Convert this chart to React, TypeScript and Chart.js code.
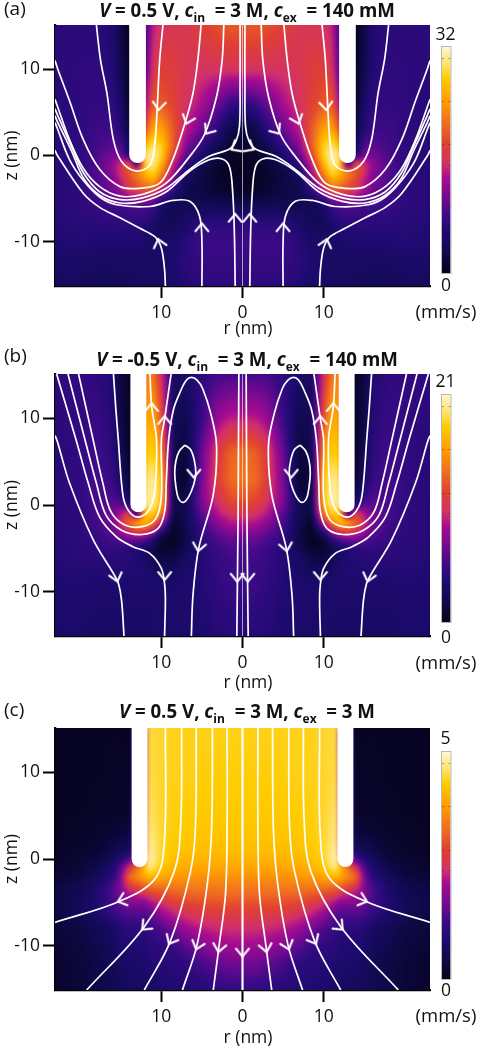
import React, { useEffect, useRef } from "react";
import { Chart, registerables } from "chart.js";
Chart.register(...registerables);

const FONT = '"Open Sans", "Noto Sans", sans-serif';
const INK = "#111";

// Colour scale: [fraction of max, colour]
const cmapStops: [number, string][] = [
  [0, "#05021c"], [0.03, "#080428"], [0.1, "#100a50"], [0.18, "#1e0a70"], [0.25, "#3a0a86"],
  [0.32, "#6a0a90"], [0.425, "#a80c90"], [0.48, "#d0306c"], [0.57, "#e04030"], [0.67, "#f07020"],
  [0.76, "#ff9c00"], [0.865, "#ffcc00"], [0.92, "#ffe060"], [1, "#fff6cc"],
];

const zNodes = [15, 10, 6, 3, 1, 0, -1, -2, -3, -4, -5, -6, -8, -10, -12, -15];
const rNodesAB = [0, 1.5, 3, 5, 7, 8.5, 10, 11, 12, 13, 14, 15, 16, 18, 20, 23.2];
const rNodesC = [0, 1.5, 3, 5, 7, 8.5, 10, 11, 11.7, 11.9, 14, 15, 16, 18, 20, 23.2];

// Flow speed, percent of the colour-bar maximum, rows follow zNodes, columns |r|
const speedA = [
  [62, 62, 60, 56, 52, 52, 50, 45, 25, 2, 2, 8, 18, 21, 21, 21],
  [50, 50, 50, 50, 52, 55, 56, 52, 28, 2, 2, 10, 19, 22, 22, 21],
  [22, 24, 32, 42, 50, 56, 62, 62, 40, 3, 3, 16, 22, 23, 22, 20],
  [6, 9, 20, 32, 45, 62, 78, 80, 60, 5, 8, 19, 25, 25, 22, 20],
  [3, 5, 10, 22, 36, 62, 88, 94, 84, 8, 12, 28, 30, 26, 22, 20],
  [2, 3, 6, 16, 30, 55, 88, 98, 94, 12, 16, 35, 34, 27, 22, 20],
  [1, 2, 5, 11, 22, 46, 82, 96, 90, 14, 64, 50, 38, 28, 22, 20],
  [1, 2, 4, 8, 15, 40, 72, 90, 82, 72, 62, 50, 38, 28, 22, 20],
  [2, 2, 4, 8, 11, 30, 60, 78, 72, 64, 56, 44, 35, 27, 22, 20],
  [3, 3, 5, 8, 10, 22, 44, 62, 62, 58, 52, 42, 34, 27, 22, 20],
  [6, 7, 8, 9, 10, 12, 22, 36, 40, 38, 36, 32, 29, 25, 22, 20],
  [12, 13, 12, 12, 11, 11, 15, 24, 27, 27, 27, 26, 25, 24, 22, 20],
  [22, 22, 22, 22, 16, 12, 12, 16, 20, 21, 21, 21, 21, 21, 20, 19],
  [25, 25, 25, 25, 20, 16, 15, 15, 16, 18, 18, 18, 18, 18, 19, 18],
  [24, 24, 24, 24, 21, 18, 16, 15, 15, 15, 15, 15, 15, 15, 16, 16],
  [22, 22, 22, 21, 19, 16, 15, 14, 14, 14, 13, 13, 12, 12, 13, 13],
];
const speedB = [
  [26, 26, 26, 22, 16, 14, 50, 68, 72, 5, 3, 7, 18, 22, 23, 22],
  [45, 45, 40, 24, 10, 12, 60, 80, 76, 5, 3, 8, 20, 24, 23, 21],
  [66, 64, 54, 32, 6, 10, 75, 88, 84, 6, 3, 12, 21, 26, 23, 20],
  [68, 66, 56, 34, 3, 8, 85, 96, 92, 7, 5, 15, 24, 27, 23, 20],
  [62, 60, 52, 36, 8, 8, 85, 98, 95, 8, 10, 22, 27, 27, 23, 20],
  [58, 56, 48, 34, 10, 9, 82, 96, 95, 10, 18, 30, 30, 27, 22, 20],
  [52, 50, 44, 30, 10, 7, 70, 88, 85, 12, 58, 42, 34, 27, 22, 20],
  [44, 44, 38, 26, 11, 4, 45, 70, 85, 80, 65, 50, 34, 26, 22, 20],
  [38, 37, 32, 24, 9, 2, 20, 42, 55, 58, 50, 40, 30, 25, 22, 20],
  [31, 31, 27, 22, 9, 2, 5, 18, 28, 32, 32, 30, 26, 24, 21, 20],
  [28, 28, 25, 19, 11, 4, 4, 9, 15, 19, 21, 22, 23, 22, 21, 19],
  [27, 26, 24, 19, 14, 8, 7, 11, 16, 18, 20, 20, 21, 21, 21, 19],
  [25, 25, 23, 19, 17, 14, 14, 16, 18, 18, 18, 18, 18, 18, 19, 18],
  [24, 24, 22, 19, 17, 17, 17, 17, 17, 17, 17, 17, 17, 17, 17, 17],
  [22, 22, 21, 18, 17, 17, 17, 16, 16, 16, 16, 16, 16, 16, 17, 17],
  [20, 20, 20, 17, 17, 16, 16, 16, 15, 15, 15, 15, 15, 15, 16, 16],
];
const speedC = [
  [88, 88, 88, 88, 88, 88, 89, 90, 90, 30, 2, 2, 2, 2, 2, 2],
  [87, 87, 87, 87, 88, 88, 89, 90, 91, 40, 2, 3, 3, 2, 2, 2],
  [86, 86, 86, 86, 87, 87, 89, 91, 93, 45, 3, 3, 3, 3, 2, 2],
  [85, 85, 85, 85, 86, 87, 89, 93, 95, 50, 6, 6, 5, 4, 3, 2],
  [83, 83, 83, 83, 84, 85, 89, 95, 97, 55, 12, 12, 9, 5, 4, 3],
  [81, 81, 81, 81, 82, 84, 88, 96, 99, 70, 26, 19, 13, 7, 5, 3],
  [78, 78, 78, 78, 79, 81, 85, 93, 95, 85, 50, 28, 17, 9, 6, 4],
  [74, 74, 74, 74, 75, 76, 79, 82, 82, 80, 66, 34, 20, 12, 7, 5],
  [70, 70, 70, 70, 70, 70, 70, 69, 68, 67, 55, 36, 26, 16, 10, 7],
  [66, 66, 66, 66, 65, 63, 60, 57, 54, 52, 42, 34, 28, 17, 11, 8],
  [61, 61, 61, 60, 58, 55, 50, 44, 40, 36, 36, 32, 26, 18, 12, 8],
  [56, 56, 56, 55, 52, 48, 41, 34, 30, 30, 30, 28, 24, 17, 12, 8],
  [48, 48, 47, 45, 40, 34, 28, 25, 24, 22, 21, 19, 15, 11, 8, 6],
  [41, 41, 40, 36, 30, 24, 22, 21, 20, 19, 18, 17, 13, 10, 7, 5],
  [33, 33, 31, 27, 22, 21, 20, 19, 18, 17, 16, 14, 11, 8, 6, 4],
  [23, 23, 22, 20, 19, 18, 17, 16, 15, 14, 13, 12, 11, 9, 6, 4],
];

// Streamlines, left half [r, z] in nm; the right half is their mirror image
const streamsA: number[][][] = [
  [[-18, 15.1], [-17.5, 11.1], [-16.7, 7.2], [-15.9, 1.8], [-14.9, -0.7], [-13.1, -1.8], [-11.4, -1.1], [-10.8, 1.4], [-10.5, 5.7], [-10.2, 11.1], [-9.8, 15.1]],
  [[-23.1, 11], [-22.8, 10.1], [-21.3, 6.3], [-19.6, 1.8], [-17.6, -1.6], [-15.1, -3.6], [-12.7, -3.8], [-10.2, -3.2], [-8.6, -0.5], [-7.1, 3.7], [-6.1, 7.2], [-5.5, 11.1], [-5.1, 15.1]],
  [[-23.1, 6.5], [-22.8, 5.7], [-21.3, 1.8], [-19.6, -1.5], [-17.6, -3.6], [-15.1, -4.7], [-12.3, -4.5], [-9.4, -3.2], [-6.5, -0.1], [-4.7, 2.4], [-3.2, 6.8], [-2.5, 11.1], [-2.3, 15.1]],
  [[-23.1, 5.4], [-22.8, 4.7], [-21.0, 0.9], [-19.6, -2], [-17.6, -4.2], [-15.1, -5.1], [-12.3, -4.9], [-9.4, -3.8], [-6.5, -1.6], [-4.1, -0.1], [-1.6, 0.75], [-0.8, 1.65], [-0.37, 3.4], [-0.3, 8], [-0.3, 15.1]],
  [[-23.1, 4.6], [-22.8, 3.9], [-21.0, 0.4], [-19.6, -2.6], [-17.6, -4.6], [-15.1, -5.5], [-12.3, -5.3], [-9.4, -4.2], [-6.5, -1.8], [-4.1, -0.5], [-2.5, -0.4], [-1.6, -1.3], [-1.2, -4.4], [-1, -9], [-0.9, -15.1]],
  [[-23.1, 3.8], [-22.8, 3.1], [-21.3, -0.5], [-19.6, -2.9], [-17.6, -4.8], [-15.5, -5.7], [-11.4, -5.9], [-8.6, -5.2], [-6.5, -5.3], [-5.3, -7], [-5, -10], [-5, -15.1]],
  [[-23.1, 0.6], [-22.8, 0], [-19.6, -4.4], [-17.6, -6], [-15.1, -7.2], [-12.7, -8.4], [-10.8, -9.4], [-10, -10.7], [-9.6, -13.2], [-9.5, -15.1]],
];
const streamsB: number[][][] = [
  [[-15.9, 15.1], [-15.6, 11], [-15.3, 7.5], [-14.9, 2.5], [-14.5, 0.2], [-13.5, -1.2], [-12.4, -1.3], [-11.4, -0.4], [-10.8, 1.7], [-10.6, 7.5], [-11.2, 11.4], [-11.4, 15.1]],
  [[-20.2, 15.1], [-18.4, 7.5], [-17.2, 2.5], [-16.2, -0.8], [-14.5, -2.3], [-12.4, -2.5], [-10.7, -1.6], [-10, 1], [-10, 7.5], [-9.6, 9.9], [-8.8, 15.1]],
  [[-21.5, 15.1], [-19.4, 7.5], [-18, 2.5], [-16.8, -1.2], [-14.9, -2.9], [-12.4, -3.4], [-10.4, -2.7], [-9.6, -0.8], [-9.4, 2.5], [-9.1, 7.5], [-8.5, 11], [-7.6, 13.2], [-6.9, 14.4], [-6.3, 14.7], [-5.6, 14.4], [-4.9, 13.4], [-3.9, 10.5], [-3.2, 6.9], [-3.6, 1.2], [-5.4, -5], [-6.1, -10.4], [-6.3, -15.1]],
  [[-22.9, 15.1], [-20.5, 7.5], [-19, 2.5], [-17.6, -1.4], [-15.5, -3.7], [-13.5, -4.8], [-11.4, -5.6], [-10, -7.3], [-9.6, -9.1], [-9.5, -11], [-9.6, -15.1]],
  [[-23.1, 8], [-22.8, 7.3], [-21.3, 2.5], [-18.4, -4], [-15.9, -7.9], [-15.3, -9], [-14.9, -11], [-14.6, -15.1]],
  [[-7.1, 6.9], [-6.4, 6.4], [-5.95, 5.2], [-5.75, 3.7], [-6, 2.4], [-6.6, 1], [-7.3, 0.3], [-7.9, 0.8], [-8.2, 2.1], [-8.35, 3.7], [-8.2, 5.1], [-7.8, 6.2], [-7.1, 6.9]],
  [[-0.45, 15.1], [-0.5, 6], [-0.55, -2], [-0.7, -15.1]],
];
const streamsC: number[][][] = [
  [[-1.9, 15.1], [-1.9, 3.6], [-2.1, -4.1], [-2.9, -10.1], [-3.6, -15.1]],
  [[-3.7, 15.1], [-3.8, 3.6], [-4.3, -2.6], [-5.6, -9.9], [-7.4, -15.1]],
  [[-5.7, 15.1], [-5.8, 3.6], [-6.4, -1.4], [-8.9, -9.5], [-12.1, -15.1]],
  [[-7.5, 15.1], [-7.6, 4.4], [-8.4, -1.4], [-12.1, -7.8], [-19.2, -15.1]],
  [[-9.5, 15.1], [-9.6, 2.4], [-10.7, -2.2], [-15.2, -4.9], [-23.1, -7.3]],
];
const axisStreamZ = [15.1, -15.1];

// Arrowheads, left half: [r, z, heading in degrees; 0 = down, 90 = left, 180 = up]
const arrowsA = [[-10.3, 5.6, 5], [-6.8, 4, 20], [-4.3, 2.8, 35], [-1.05, 0.85, 60], [-0.9, -7.1, 180], [-5, -8.2, 180], [-10.3, -10, 165]];
const arrowsB = [[-11.2, 11.4, 180], [-9.6, 9.9, 180], [-6, 3.5, 0], [-5.4, -5, 10], [-0.65, -8.5, 0], [-9.6, -8.3, 0], [-15.5, -8.5, -15]];
const arrowsC = [[-2.9, -10.4, 10], [-5.6, -10.1, 18], [-8.9, -9.5, 28], [-12.1, -7.9, 45], [-15, -4.8, 72]];
const axisArrowC = [[0, -10.9, 0]];

const rTicks = [-10, 0, 10];
const zTicks = [-10, 0, 10];
const barMarks = [0.95, 0.76, 0.57, 0.48, 0.29];

const lut: number[][] = (() => {
  const rgb = (h: string) => [1, 3, 5].map((i) => parseInt(h.slice(i, i + 2), 16));
  const out: number[][] = [];
  for (let i = 0; i <= 255; i++) {
    const t = i / 255;
    let k = 0;
    while (k < cmapStops.length - 2 && t > cmapStops[k + 1][0]) k++;
    const [t0, c0] = cmapStops[k];
    const [t1, c1] = cmapStops[k + 1];
    const f = Math.min(1, (t - t0) / (t1 - t0));
    const a = rgb(c0);
    const b = rgb(c1);
    out.push(a.map((v, j) => v + (b[j] - v) * f));
  }
  return out;
})();

function sampleSpeed(grid: number[][], rs: number[], r: number, z: number) {
  const ar = Math.min(Math.abs(r), rs[rs.length - 1]);
  let i = 0;
  while (i < rs.length - 2 && ar > rs[i + 1]) i++;
  let j = 0;
  while (j < zNodes.length - 2 && z < zNodes[j + 1]) j++;
  const fr = (ar - rs[i]) / (rs[i + 1] - rs[i]);
  const fz = Math.max(0, Math.min(1, (zNodes[j] - z) / (zNodes[j] - zNodes[j + 1])));
  const top = grid[j][i] + (grid[j][i + 1] - grid[j][i]) * fr;
  const bot = grid[j + 1][i] + (grid[j + 1][i + 1] - grid[j + 1][i]) * fr;
  return (top + (bot - top) * fz) / 100;
}

type Panel = {
  top: number; height: number; areaTop: number; bottom: number;
  barTop: number; barBottom: number; maxLabel: string; maxY: number; zeroY: number; unitY: number; rTitleY: number;
  grid: number[][]; rs: number[]; streams: number[][][]; arrows: number[][]; axisArrows: number[][];
  poreMid: number; poreHalf: number; poreTip: number; axisWidth: number; axisAlpha: number;
  tag: string; tagY: number; titleY: number; title: React.ReactNode;
};

const Sub = ({ t }: { t: string }) => (
  <sub style={{ fontSize: 12, lineHeight: 0, verticalAlign: -5, fontWeight: 700 }}>{t}</sub>
);
const Head = (v: string, ex: string) => (
  <>
    <i>V</i> = {v} V, <i>c</i><Sub t="in" /> &nbsp;= 3 M, <i>c</i><Sub t="ex" /> &nbsp;= {ex}
  </>
);

const panels: Panel[] = [
  {
    top: 0, height: 345, areaTop: 25, bottom: 59, barTop: 47, barBottom: 273, maxLabel: "32", maxY: 35, zeroY: 286, unitY: 313, rTitleY: 329,
    grid: speedA, rs: rNodesAB, streams: streamsA, arrows: arrowsA, axisArrows: [], poreMid: 12.93, poreHalf: 1.03, poreTip: -0.88, axisWidth: 1, axisAlpha: 0.6,
    tag: "(a)", tagY: 10, titleY: 9, title: Head("0.5", "140 mM"),
  },
  {
    top: 345, height: 350, areaTop: 29, bottom: 59, barTop: 395, barBottom: 622, maxLabel: "21", maxY: 382, zeroY: 638, unitY: 664, rTitleY: 683,
    grid: speedB, rs: rNodesAB, streams: streamsB, arrows: arrowsB, axisArrows: [], poreMid: 12.83, poreHalf: 0.98, poreTip: -0.85, axisWidth: 1, axisAlpha: 0.6,
    tag: "(b)", tagY: 357, titleY: 358, title: Head("-0.5", "140 mM"),
  },
  {
    top: 695, height: 355, areaTop: 33, bottom: 60, barTop: 752, barBottom: 979, maxLabel: "5", maxY: 739, zeroY: 991, unitY: 1017, rTitleY: 1038,
    grid: speedC, rs: rNodesC, streams: streamsC, arrows: arrowsC, axisArrows: axisArrowC, poreMid: 12.68, poreHalf: 0.98, poreTip: -0.93, axisWidth: 2.2, axisAlpha: 1,
    tag: "(c)", tagY: 711, titleY: 710, title: Head("0.5", "3 M"),
  },
];

function chevron() {
  const c = document.createElement("canvas");
  c.width = 20;
  c.height = 20;
  const g = c.getContext("2d")!;
  g.strokeStyle = "#fff";
  g.lineWidth = 2;
  g.lineCap = "round";
  g.lineJoin = "miter";
  g.beginPath();
  g.moveTo(3.5, 5);
  g.lineTo(10, 13);
  g.lineTo(16.5, 5);
  g.stroke();
  return c;
}

function panelPlugin(p: Panel) {
  return {
    id: "panelPaint",
    beforeDatasetsDraw(chart: any) {
      const { ctx, chartArea: a, scales } = chart;
      const x = scales.x;
      const y = scales.y;
      const w = Math.round(a.right - a.left);
      const h = Math.round(a.bottom - a.top);
      const off = document.createElement("canvas");
      off.width = w;
      off.height = h;
      const og = off.getContext("2d")!;
      const img = og.createImageData(w, h);
      for (let j = 0; j < h; j++) {
        const z = y.getValueForPixel(a.top + j + 0.5);
        for (let i = 0; i < w; i++) {
          const r = x.getValueForPixel(a.left + i + 0.5);
          const t = sampleSpeed(p.grid, p.rs, r, z);
          const c = lut[Math.max(0, Math.min(255, Math.round(t * 255)))];
          const k = (j * w + i) * 4;
          img.data[k] = c[0];
          img.data[k + 1] = c[1];
          img.data[k + 2] = c[2];
          img.data[k + 3] = 255;
        }
      }
      og.putImageData(img, 0, 0);
      ctx.save();
      ctx.beginPath();
      ctx.rect(a.left, a.top, w, h);
      ctx.clip();
      ctx.drawImage(off, a.left, a.top);
      ctx.filter = "blur(2px)";
      ctx.drawImage(off, a.left, a.top);
      ctx.filter = "none";
      ctx.fillStyle = "#fff";
      for (const s of [-1, 1]) {
        const l = x.getPixelForValue(s * p.poreMid - p.poreHalf);
        const rr = x.getPixelForValue(s * p.poreMid + p.poreHalf);
        const mid = y.getPixelForValue(p.poreTip);
        const rad = (rr - l) / 2;
        const cy = mid - rad;
        ctx.beginPath();
        ctx.rect(l, a.top - 1, rr - l, cy - a.top + 1);
        ctx.arc((l + rr) / 2, cy, rad, 0, Math.PI);
        ctx.fill();
      }
      ctx.restore();
    },
    afterDraw(chart: any) {
      const { ctx } = chart;
      const bx = 442;
      const bw = 8.5;
      const by0 = p.barTop - p.top;
      const by1 = p.barBottom - p.top;
      ctx.save();
      for (let yy = by0; yy < by1; yy++) {
        const c = lut[Math.round((1 - (yy - by0) / (by1 - by0)) * 255)];
        ctx.fillStyle = `rgb(${c[0]},${c[1]},${c[2]})`;
        ctx.fillRect(bx, yy, bw, 1);
      }
      ctx.strokeStyle = "#b8b8b0";
      ctx.lineWidth = 1;
      ctx.strokeRect(bx - 0.5, by0 - 0.5, bw + 1, by1 - by0 + 1);
      ctx.strokeStyle = "rgba(60,40,40,0.45)";
      for (const m of barMarks) {
        const yy = Math.round(by1 - m * (by1 - by0)) + 0.5;
        ctx.beginPath();
        ctx.moveTo(bx, yy);
        ctx.lineTo(bx + 2, yy);
        ctx.moveTo(bx + bw - 2, yy);
        ctx.lineTo(bx + bw, yy);
        ctx.stroke();
      }
      ctx.fillStyle = INK;
      ctx.textAlign = "center";
      ctx.textBaseline = "middle";
      ctx.font = `17.5px ${FONT}`;
      ctx.fillText(p.maxLabel, 445.5, p.maxY - p.top);
      ctx.fillText("0", 446, p.zeroY - p.top);
      ctx.fillText("r (nm)", 248, p.rTitleY - p.top);
      ctx.font = `18.5px ${FONT}`;
      ctx.fillText("(mm/s)", 446, p.unitY - p.top);
      ctx.font = `19px ${FONT}`;
      ctx.textAlign = "left";
      ctx.fillText(p.tag, 4, p.tagY - p.top);
      ctx.restore();
    },
  };
}

function buildDatasets(p: Panel, head: HTMLCanvasElement) {
  const ds: any[] = [];
  const line = (pts: { x: number; y: number }[], width = 1.7, alpha = 1) => ({
    type: "scatter",
    data: pts,
    showLine: true,
    borderColor: `rgba(255,255,255,${alpha})`,
    borderWidth: width,
    tension: 0.35,
    pointRadius: 0,
    pointHoverRadius: 0,
    fill: false,
  });
  for (const s of [1, -1]) {
    for (const st of p.streams) {
      ds.push(line(st.map(([r, z]) => ({ x: s * r, y: z }))));
    }
  }
  ds.push(line(axisStreamZ.map((z) => ({ x: 0, y: z })), p.axisWidth, p.axisAlpha));
  const all = [
    ...p.arrows.map(([r, z, d]) => [r, z, d]),
    ...p.arrows.map(([r, z, d]) => [-r, z, -d]),
    ...p.axisArrows,
  ];
  ds.push({
    type: "scatter",
    data: all.map(([r, z]) => ({ x: r, y: z })),
    pointStyle: head,
    pointRadius: 6,
    pointRotation: all.map((v) => v[2]),
    showLine: false,
  });
  return ds;
}

function PanelChart({ p }: { p: Panel }) {
  const ref = useRef<HTMLCanvasElement>(null);
  useEffect(() => {
    const head = chevron();
    const axisFont = { family: FONT, size: 17.5 };
    const common = {
      border: { display: true, color: "#000", width: 2.2 },
      grid: { display: true, drawOnChartArea: false, drawTicks: true, tickLength: 12, tickWidth: 2, tickColor: "#000" },
    };
    const chart = new Chart(ref.current!, {
      type: "scatter",
      data: { datasets: buildDatasets(p, head) },
      plugins: [panelPlugin(p)],
      options: {
        animation: false,
        responsive: false,
        devicePixelRatio: 1,
        layout: { padding: { left: 0, right: 49, top: p.areaTop, bottom: 0 } },
        plugins: { legend: { display: false }, tooltip: { enabled: false }, title: { display: false } },
        scales: {
          x: {
            ...common,
            type: "linear",
            min: -23.1,
            max: 23.1,
            afterBuildTicks: (sc: any) => { sc.ticks = rTicks.map((value) => ({ value })); },
            afterFit: (sc: any) => { sc.height = p.bottom; },
            ticks: { font: axisFont, color: INK, padding: 5, maxRotation: 0, autoSkip: false, callback: (v: any) => String(Math.abs(v)) },
          },
          y: {
            ...common,
            type: "linear",
            min: -15.1,
            max: 15.1,
            afterBuildTicks: (sc: any) => { sc.ticks = zTicks.map((value) => ({ value })); },
            afterFit: (sc: any) => { sc.width = 55; },
            title: { display: true, text: "z (nm)", font: axisFont, color: INK, padding: { top: 2, bottom: 0 } },
            ticks: { font: axisFont, color: INK, padding: 3, autoSkip: false, callback: (v: any) => String(v) },
          },
        },
      } as any,
    } as any);
    return () => chart.destroy();
  }, [p]);
  return (
    <>
      <canvas ref={ref} width={479} height={p.height} style={{ position: "absolute", left: 0, top: p.top, width: 479, height: p.height, display: "block" }} />
      <div
        style={{
          position: "absolute", left: 247 - 200, width: 400, top: p.titleY - 12, height: 24, lineHeight: "24px", textAlign: "center",
          font: `700 18.7px ${FONT}`, color: "#111", whiteSpace: "nowrap",
        }}
      >
        {p.title}
      </div>
    </>
  );
}

export default function App() {
  return (
    <div style={{ position: "absolute", left: 0, top: 0, width: 479, height: 1050, background: "#fff", overflow: "hidden" }}>
      {panels.map((p) => (
        <PanelChart key={p.tag} p={p} />
      ))}
    </div>
  );
}
